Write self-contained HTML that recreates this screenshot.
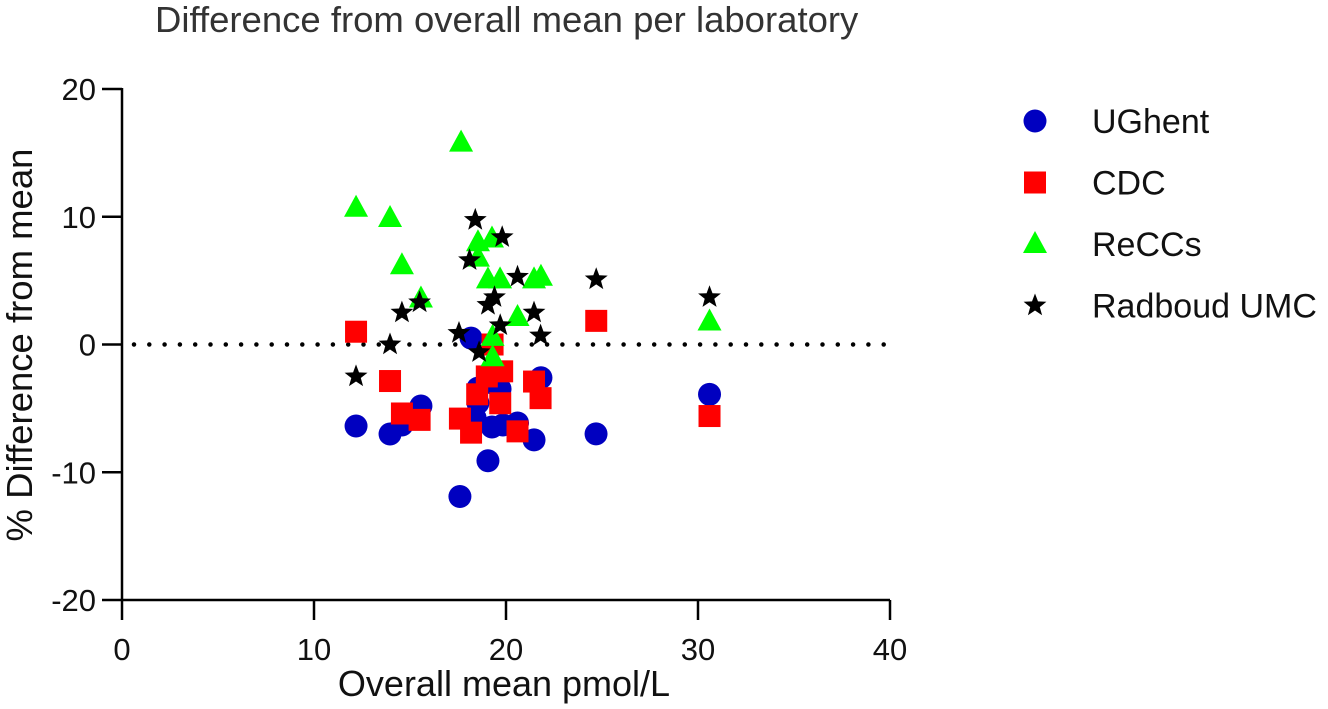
<!DOCTYPE html>
<html><head><meta charset="utf-8"><style>
body{margin:0;background:#fff}
svg{display:block;font-family:"Liberation Sans",Arial,sans-serif}
</style></head><body>
<svg id="chart" width="1328" height="709" viewBox="0 0 1328 709">
<text x="155" y="32" font-size="36.5" fill="#333">Difference from overall mean per laboratory</text>
<g id="axes"></g>
<g id="marks"></g>
<g id="legend"></g>
<text x="504" y="696" font-size="36" text-anchor="middle" fill="#111">Overall mean pmol/L</text>
<text transform="translate(32,345) rotate(-90)" font-size="36.5" text-anchor="middle" fill="#111">% Difference from mean</text>
</svg>
<script>
const xTicks=[0,10,20,30,40];
const yTicks=[20,10,0,-10,-20];
const ughentX=[12.19,13.96,14.58,15.57,17.6,18.18,18.39,18.54,18.54,19.27,19.69,19.27,19.84,19.06,20.6,21.46,21.82,24.69,30.6];
const ughentY=[-6.38,-7.01,-6.3,-4.81,-11.9,0.5,-5.75,-4.58,-3.41,-3.0,-3.48,-6.46,-6.3,-9.1,-6.14,-7.47,-2.6,-7.0,-3.9];
const cdcX=[12.19,13.96,14.58,15.5,17.6,18.18,19.3,19.0,19.8,18.5,19.7,20.6,21.46,21.8,24.7,30.6];
const cdcY=[1.0,-2.86,-5.4,-5.9,-5.8,-6.9,0,-2.5,-2.1,-3.9,-4.6,-6.8,-2.9,-4.2,1.85,-5.6];
const reccsX=[12.19,13.96,14.58,15.57,17.66,18.54,19.27,18.54,19.06,19.69,21.46,21.82,20.6,19.3,19.3,30.6];
const reccsY=[10.7,9.9,6.2,3.6,15.8,8.0,8.3,6.8,5.1,5.1,5.1,5.3,2.15,0.6,-1.0,1.8];
const radX=[12.19,13.96,14.58,15.5,18.4,19.8,18.1,19.06,19.4,20.6,21.46,21.8,19.7,17.55,18.6,24.7,30.6];
const radY=[-2.5,0,2.5,3.3,9.75,8.4,6.6,3.1,3.7,5.3,2.5,0.7,1.5,0.9,-0.6,5.1,3.7];
const labels=["UGhent","CDC","ReCCs","Radboud UMC"];

const NS="http://www.w3.org/2000/svg";
const X0=122,X1=890,Y0=600,Y1=89;
const sx=v=>X0+(v-0)/(40-0)*(X1-X0);
const sy=v=>Y0-(v+20)/40*(Y0-Y1);
function mk(tag,attrs,parent){const e=document.createElementNS(NS,tag);for(const k in attrs)e.setAttribute(k,attrs[k]);parent.appendChild(e);return e;}
const axes=document.getElementById('axes'),marks=document.getElementById('marks'),legend=document.getElementById('legend');
let l=mk('line',{x1:X0,y1:Y1-1,x2:X0,y2:Y0+1,stroke:'#000','stroke-width':2.5},axes);


l=mk('line',{x1:X0-1,y1:Y0,x2:X1,y2:Y0,stroke:'#000','stroke-width':2.5},axes);


yTicks.forEach(v=>{const y=sy(v);
 const t=mk('line',{x1:X0-20,y1:y,x2:X0,y2:y,stroke:'#000','stroke-width':2.5},axes);
 
 
 const tx=mk('text',{x:X0-26,y:y+11,'font-size':31,'text-anchor':'end',fill:'#111'},axes);tx.textContent=v;
 
 
});
xTicks.forEach(v=>{const x=sx(v);
 const t=mk('line',{x1:x,y1:Y0,x2:x,y2:Y0+20,stroke:'#000','stroke-width':2.5},axes);
 
 
 const tx=mk('text',{x:x,y:Y0+60,'font-size':31,'text-anchor':'middle',fill:'#111'},axes);tx.textContent=v;
 
 
});
const zl=mk('line',{x1:X0+12,y1:sy(0),x2:X1,y2:sy(0),stroke:'#000','stroke-width':4.5,'stroke-dasharray':'0 15.3','stroke-linecap':'round'},axes);


function star(cx,cy,R){const r=R*0.42;let p=[];for(let i=0;i<10;i++){const a=-Math.PI/2+i*Math.PI/5;const rr=i%2?r:R;p.push((cx+rr*Math.cos(a)).toFixed(1)+','+(cy+rr*Math.sin(a)).toFixed(1));}return p.join(' ');}
function shape(kind,x,y,parent){
 if(kind==0)return mk('circle',{cx:x,cy:y,r:11.5,fill:'#0000c0'},parent);
 if(kind==1)return mk('rect',{x:x-11,y:y-11,width:22,height:22,fill:'#ff0000'},parent);
 if(kind==2)return mk('polygon',{points:`${x},${y-13} ${x+12},${y+9} ${x-12},${y+9}`,fill:'#00ff00'},parent);
 return mk('polygon',{points:star(x,y,12),fill:'#000'},parent);
}
const series=[[ughentX,ughentY],[cdcX,cdcY],[reccsX,reccsY],[radX,radY]];
const names=['point-ughent','point-cdc','point-reccs','point-radboud'];
series.forEach((s,k)=>{s[0].forEach((xv,i)=>{const e=shape(k,sx(xv),sy(s[1][i]),marks);
 
 
});});
labels.forEach((lab,k)=>{const y=121+k*61.5;
 const g=mk('g',{},legend);
 
 
 shape(k,1035,y,g);
 const t=mk('text',{x:1092,y:y+12,'font-size':34,fill:'#111'},g);t.textContent=lab;
});
</script>
</body></html>
